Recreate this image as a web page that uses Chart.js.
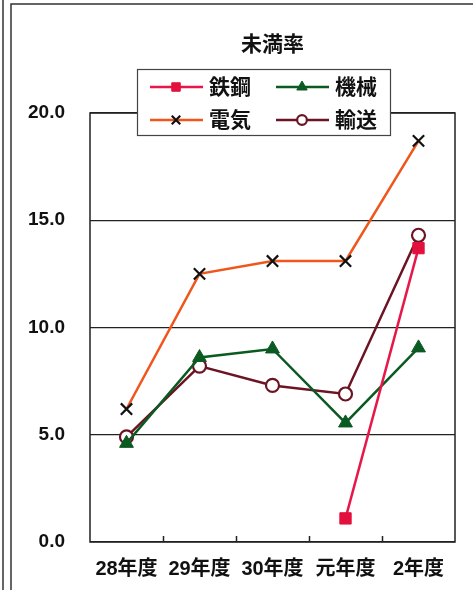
<!DOCTYPE html>
<html>
<head>
<meta charset="utf-8">
<script src="https://cdn.jsdelivr.net/npm/chart.js@4.4.1/dist/chart.umd.min.js"></script>
<style>
  html, body { margin: 0; padding: 0; background: #fff; }
  #wrap { width: 473px; height: 590px; position: relative; }
</style>
</head>
<body>
<div id="wrap"><canvas id="c" width="473" height="590"></canvas></div>
<script>
// ===== Data =====
const years = ["28年度", "29年度", "30年度", "元年度", "2年度"];
const tekkou = [null, null, null, 1.1, 13.7];   // 鉄鋼
const kikai = [4.6, 8.6, 9.0, 5.55, 9.05];      // 機械
const denki = [6.2, 12.5, 13.1, 13.1, 18.7];    // 電気
const yusou = [4.9, 8.2, 7.3, 6.9, 14.3];       // 輸送
const yTicks = [0, 5, 10, 15, 20];

const FONT = "'Liberation Sans', 'Noto Sans CJK JP', sans-serif";

const series = [
  { label: "鉄鋼", data: tekkou, line: "#e8174a", style: "rect", radius: 8, fill: "#e3103e", border: "#e3103e", bw: 1 },
  { label: "機械", data: kikai, line: "#0b5a22", style: "triangle", radius: 8, fill: "#0b5a22", border: "#0b5a22", bw: 1 },
  { label: "電気", data: denki, line: "#f0561c", style: "crossRot", radius: 8, fill: "#111", border: "#111", bw: 2.2 },
  { label: "輸送", data: yusou, line: "#6c1424", style: "circle", radius: 6.5, fill: "#fff", border: "#6c1424", bw: 2.2 }
];

// frame, title, custom legend, inward x ticks
const decor = {
  id: "decor",
  beforeDraw(chart) {
    const ctx = chart.ctx;
    ctx.save();
    ctx.strokeStyle = "#333";
    ctx.lineWidth = 1.5;
    ctx.beginPath();
    ctx.moveTo(3, 0); ctx.lineTo(3, 590);
    ctx.moveTo(11, 590); ctx.lineTo(11, 4); ctx.lineTo(473, 4);
    ctx.stroke();
    ctx.restore();
  },
  afterDatasetsDraw(chart) {
    const ctx = chart.ctx;
    const a = chart.chartArea;
    const x = chart.scales.x;
    ctx.save();
    // plot box
    ctx.strokeStyle = "#222";
    ctx.lineWidth = 1.5;
    ctx.strokeRect(a.left, a.top, a.right - a.left, a.bottom - a.top);
    // inward tick marks between categories
    const step = x.getPixelForValue(1) - x.getPixelForValue(0);
    ctx.beginPath();
    for (let i = 0; i < years.length - 1; i++) {
      const px = Math.round(x.getPixelForValue(i) + step / 2) + 0.5;
      ctx.moveTo(px, a.bottom);
      ctx.lineTo(px, a.bottom - 6);
    }
    ctx.stroke();

    // title
    ctx.fillStyle = "#111";
    ctx.font = "bold 21px " + FONT;
    ctx.textAlign = "center";
    ctx.textBaseline = "middle";
    ctx.fillText("未満率", (a.left + a.right) / 2, 45);

    // legend box
    const bx = 137, by = 69, bw = 253, bh = 66;
    ctx.fillStyle = "#fff";
    ctx.fillRect(bx, by, bw, bh);
    ctx.strokeStyle = "#444";
    ctx.lineWidth = 1.2;
    ctx.strokeRect(bx + 0.5, by + 0.5, bw, bh);
    const cols = [150, 276];
    const rows = [87, 120];
    series.forEach((s, i) => {
      const cx = cols[i % 2], cy = rows[Math.floor(i / 2)];
      ctx.strokeStyle = s.line;
      ctx.lineWidth = 2.5;
      ctx.beginPath();
      ctx.moveTo(cx, cy); ctx.lineTo(cx + 53, cy);
      ctx.stroke();
      ctx.fillStyle = s.fill;
      ctx.strokeStyle = s.border;
      ctx.lineWidth = s.bw;
      Chart.helpers.drawPoint(ctx, { pointStyle: s.style, radius: s.radius * 0.75, borderWidth: s.bw }, cx + 26, cy);
      ctx.fillStyle = "#111";
      ctx.font = "bold 21px " + FONT;
      ctx.textAlign = "left";
      ctx.fillText(s.label, cx + 59, cy + 1);
    });
    ctx.restore();
  }
};

new Chart(document.getElementById("c"), {
  type: "line",
  data: {
    labels: years,
    datasets: series.map((s) => ({
      label: s.label,
      data: s.data,
      borderColor: s.line,
      borderWidth: 2.5,
      backgroundColor: s.fill,
      pointStyle: s.style,
      pointRadius: s.radius,
      pointBackgroundColor: s.fill,
      pointBorderColor: s.border,
      pointBorderWidth: s.bw,
      tension: 0,
      spanGaps: false
    }))
  },
  options: {
    responsive: false,
    animation: false,
    layout: { padding: { left: 0, right: 18, top: 113, bottom: 0 } },
    plugins: {
      legend: { display: false },
      title: { display: false },
      tooltip: { enabled: false }
    },
    scales: {
      x: {
        offset: true,
        grid: { display: false, drawTicks: false },
        border: { display: false },
        ticks: { color: "#111", font: { family: FONT, size: 20, weight: "bold" }, padding: 15, maxRotation: 0 },
        afterFit(scale) { scale.height = 48; }
      },
      y: {
        min: 0,
        max: 20,
        afterBuildTicks(scale) { scale.ticks = yTicks.map((v) => ({ value: v })); },
        grid: { color: "#222", lineWidth: 1.2, drawTicks: false },
        border: { display: false },
        ticks: {
          color: "#111",
          font: { family: FONT, size: 19, weight: "bold" },
          padding: 25,
          callback: (v) => v.toFixed(1)
        },
        afterFit(scale) { scale.width = 90; }
      }
    }
  },
  plugins: [decor]
});
</script>
</body>
</html>
